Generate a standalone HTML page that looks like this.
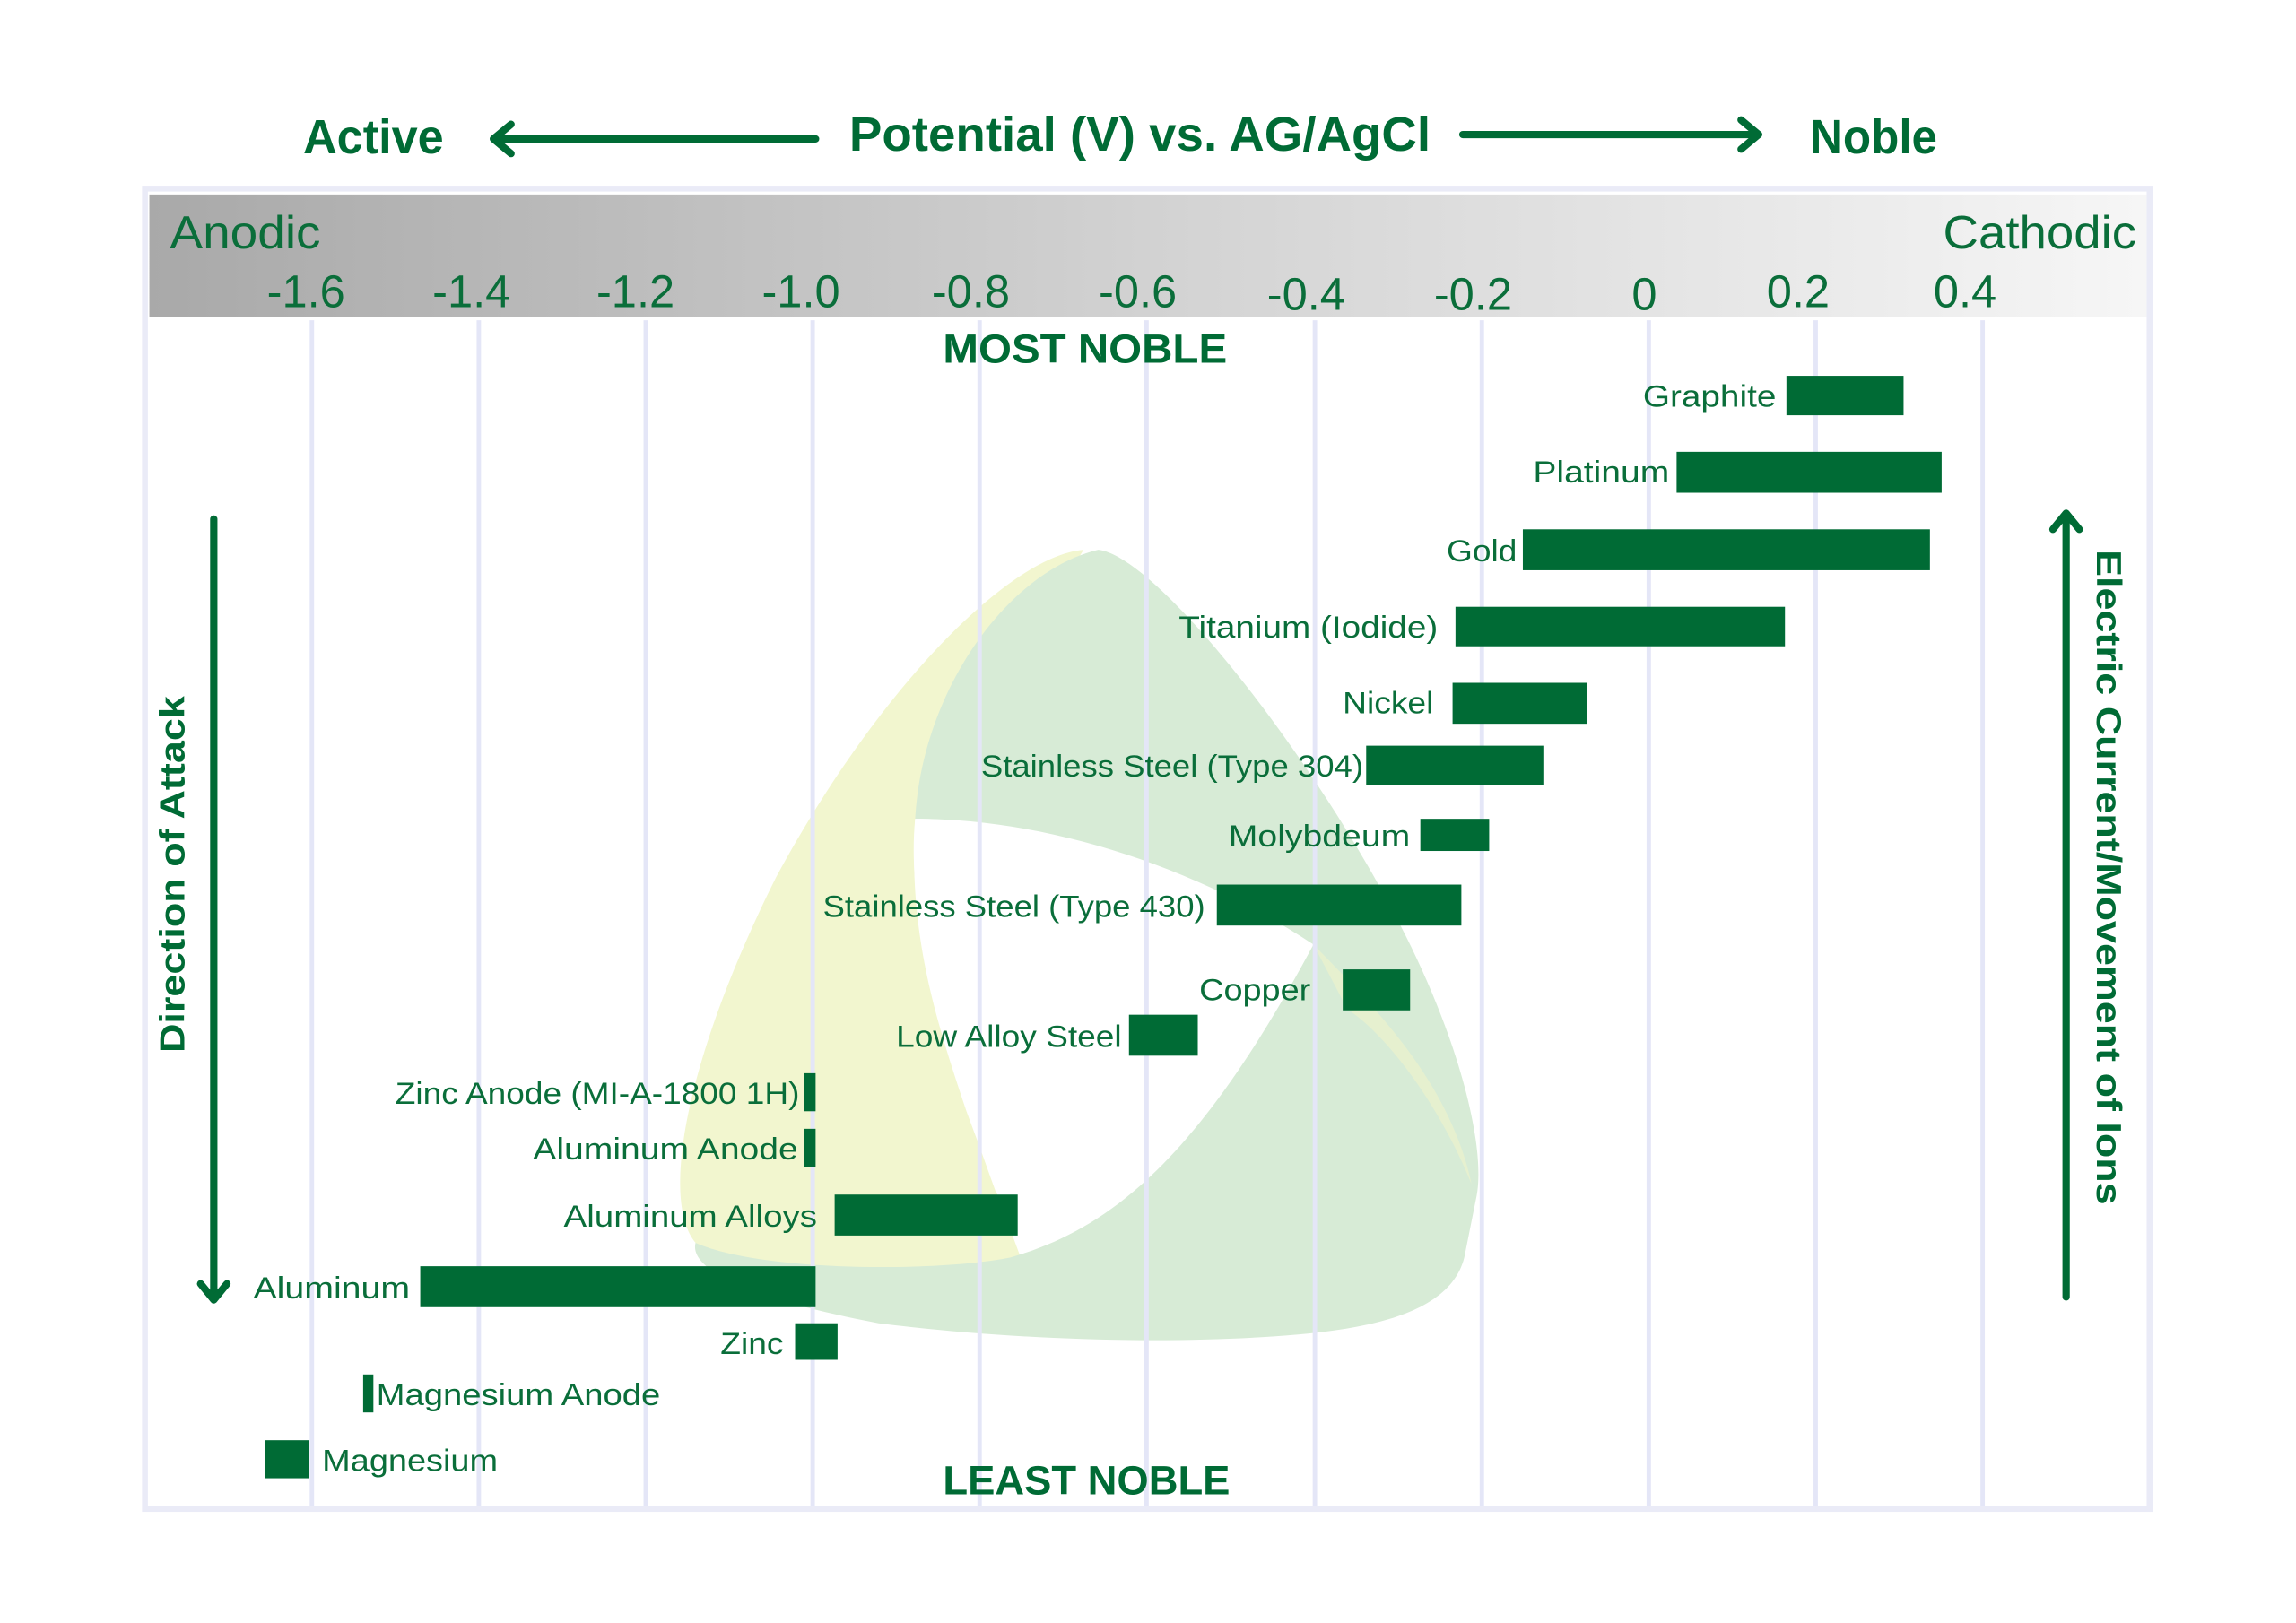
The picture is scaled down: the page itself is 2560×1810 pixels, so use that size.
<!DOCTYPE html>
<html><head><meta charset="utf-8"><style>
html,body{margin:0;padding:0;background:#fff;}
svg{display:block;}
</style></head><body>
<svg width="2560" height="1810" viewBox="0 0 1568 1110" preserveAspectRatio="none" xmlns="http://www.w3.org/2000/svg">
<defs>
<linearGradient id="hg" x1="0" x2="1" y1="0" y2="0">
<stop offset="0" stop-color="#a9a9a9"/><stop offset="0.5" stop-color="#d2d2d2"/><stop offset="1" stop-color="#f6f6f6"/>
</linearGradient>
</defs>
<rect width="1568" height="1110" fill="#fff"/>
<g font-family="Liberation Sans, sans-serif" font-weight="bold" fill="#006b35" font-size="33">
<text x="207" y="105" textLength="96" lengthAdjust="spacingAndGlyphs">Active</text>
<text x="580" y="103" textLength="397" lengthAdjust="spacingAndGlyphs">Potential (V)  vs. AG/AgCl</text>
<text x="1236" y="105" textLength="87" lengthAdjust="spacingAndGlyphs">Noble</text>
</g>
<g stroke="#006b35" stroke-width="5" fill="none" stroke-linecap="round" stroke-linejoin="round">
<line x1="337" y1="95" x2="557" y2="95"/><polyline points="349,85 337,95 349,105"/>
<line x1="999" y1="92" x2="1201" y2="92"/><polyline points="1189,82 1201,92 1189,102"/>
</g>
<rect x="99" y="129" width="1369" height="903" fill="none" stroke="#eaebf7" stroke-width="4"/>
<rect x="102" y="133" width="1364" height="84" fill="url(#hg)"/>
<!-- blob -->
<path d="M740,376 C690,380 600,470 530,600 C470,720 450,820 475,850 C520,880 640,880 700,868 L660,760 C640,700 620,640 625,560 Z" fill="#f2f6cf"/>
<path d="M750,376 C790,380 900,520 960,640 C1000,720 1015,790 1008,820 L1000,860 C990,900 930,910 870,914 C780,920 680,915 600,905 C520,890 470,870 475,850 C520,870 640,870 690,860 C760,840 820,790 897,646 C800,590 700,560 625,560 C630,470 690,390 750,376 Z" fill="#d7ebd6"/>
<path d="M897,646 C940,690 990,740 1005,810 C985,760 950,710 920,690 Z" fill="#e6f0cf"/>
<path d="M625,560 C720,560 820,595 897,646 C830,720 760,790 680,815 C660,760 640,700 632,650 C626,620 622,590 625,560 Z" fill="#fff"/>
<g stroke="#e4e6f7" stroke-width="3">
<line x1="213" y1="219" x2="213" y2="1030"/><line x1="327" y1="219" x2="327" y2="1030"/>
<line x1="441" y1="219" x2="441" y2="1030"/><line x1="555" y1="219" x2="555" y2="1030"/>
<line x1="669" y1="219" x2="669" y2="1030"/><line x1="783" y1="219" x2="783" y2="1030"/>
<line x1="898" y1="219" x2="898" y2="1030"/><line x1="1012" y1="219" x2="1012" y2="1030"/>
<line x1="1126" y1="219" x2="1126" y2="1030"/><line x1="1240" y1="219" x2="1240" y2="1030"/>
<line x1="1354" y1="219" x2="1354" y2="1030"/>
</g>
<g font-family="Liberation Sans, sans-serif" fill="#0a6e3a" font-size="32">
<text x="116" y="170" textLength="103" lengthAdjust="spacingAndGlyphs">Anodic</text>
<text x="1459" y="170" text-anchor="end" textLength="132" lengthAdjust="spacingAndGlyphs">Cathodic</text>
<g text-anchor="middle" font-size="31">
<text x="209" y="210">-1.6</text><text x="322" y="210">-1.4</text><text x="434" y="210">-1.2</text>
<text x="547" y="210">-1.0</text><text x="663" y="210">-0.8</text><text x="777" y="210">-0.6</text>
<text x="892" y="212">-0.4</text><text x="1006" y="212">-0.2</text><text x="1123" y="212">0</text>
<text x="1228" y="210">0.2</text><text x="1342" y="210">0.4</text>
</g>
</g>
<g font-family="Liberation Sans, sans-serif" font-weight="bold" fill="#006b35" font-size="28" text-anchor="middle">
<text x="741" y="248" textLength="194" lengthAdjust="spacingAndGlyphs">MOST NOBLE</text>
<text x="742" y="1022" textLength="196" lengthAdjust="spacingAndGlyphs">LEAST NOBLE</text>
</g>
<g fill="#006b35">
<rect x="1220" y="257" width="80" height="27"/>
<rect x="1145" y="309" width="181" height="28"/>
<rect x="1040" y="362" width="278" height="28"/>
<rect x="994" y="415" width="225" height="27"/>
<rect x="992" y="467" width="92" height="28"/>
<rect x="933" y="510" width="121" height="27"/>
<rect x="970" y="560" width="47" height="22"/>
<rect x="831" y="605" width="167" height="28"/>
<rect x="917" y="663" width="46" height="28"/>
<rect x="771" y="694" width="47" height="28"/>
<rect x="549" y="734" width="8" height="26"/>
<rect x="549" y="772" width="8" height="26"/>
<rect x="570" y="817" width="125" height="28"/>
<rect x="287" y="866" width="270" height="28"/>
<rect x="543" y="905" width="29" height="25"/>
<rect x="248" y="940" width="7" height="26"/>
<rect x="181" y="985" width="30" height="26"/>
</g>
<g font-family="Liberation Sans, sans-serif" fill="#0a6e3a" font-size="21" text-anchor="end">
<text x="1213" y="278" textLength="91" lengthAdjust="spacingAndGlyphs">Graphite</text>
<text x="1140" y="330" textLength="93" lengthAdjust="spacingAndGlyphs">Platinum</text>
<text x="1036" y="384" textLength="48" lengthAdjust="spacingAndGlyphs">Gold</text>
<text x="982" y="436" textLength="177" lengthAdjust="spacingAndGlyphs">Titanium (Iodide)</text>
<text x="979" y="488" textLength="62" lengthAdjust="spacingAndGlyphs">Nickel</text>
<text x="931" y="531" textLength="261" lengthAdjust="spacingAndGlyphs">Stainless Steel (Type 304)</text>
<text x="963" y="579" textLength="124" lengthAdjust="spacingAndGlyphs">Molybdeum</text>
<text x="823" y="627" textLength="261" lengthAdjust="spacingAndGlyphs">Stainless Steel (Type 430)</text>
<text x="895" y="684" textLength="76" lengthAdjust="spacingAndGlyphs">Copper</text>
<text x="766" y="716" textLength="154" lengthAdjust="spacingAndGlyphs">Low Alloy Steel</text>
<text x="546" y="755" textLength="276" lengthAdjust="spacingAndGlyphs">Zinc Anode (MI-A-1800 1H)</text>
<text x="545" y="793" textLength="181" lengthAdjust="spacingAndGlyphs">Aluminum Anode</text>
<text x="558" y="839" textLength="173" lengthAdjust="spacingAndGlyphs">Aluminum Alloys</text>
<text x="280" y="888" textLength="107" lengthAdjust="spacingAndGlyphs">Aluminum</text>
<text x="535" y="926" textLength="43" lengthAdjust="spacingAndGlyphs">Zinc</text>
<text x="257" y="961" text-anchor="start" textLength="194" lengthAdjust="spacingAndGlyphs">Magnesium Anode</text>
<text x="220" y="1006" text-anchor="start" textLength="120" lengthAdjust="spacingAndGlyphs">Magnesium</text>
</g>
<g stroke="#006b35" stroke-width="5" fill="none" stroke-linecap="round" stroke-linejoin="round">
<line x1="146" y1="355" x2="146" y2="888"/><polyline points="137,878 146,889 155,878"/>
<line x1="1411" y1="887" x2="1411" y2="352"/><polyline points="1402,362 1411,351 1420,362"/>
</g>
<g font-family="Liberation Sans, sans-serif" font-weight="bold" fill="#006b35" font-size="24" text-anchor="middle">
<text transform="translate(126,598) rotate(-90)" textLength="244" lengthAdjust="spacingAndGlyphs">Direction of Attack</text>
<text transform="translate(1432,600) rotate(90)" textLength="448" lengthAdjust="spacingAndGlyphs">Electric Current/Movement of Ions</text>
</g>
</svg>
</body></html>
